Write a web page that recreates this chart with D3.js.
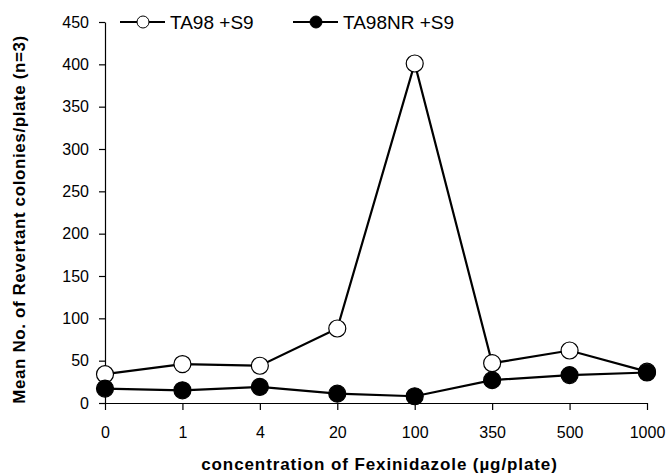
<!DOCTYPE html>
<html>
<head>
<meta charset="utf-8">
<script src="https://cdn.jsdelivr.net/npm/d3@7"></script>
<style>
  body { margin: 0; background: #fff; }
  svg { font-family: "Liberation Sans", Arial, sans-serif; }
</style>
</head>
<body>
<div class="chart"></div>
<script>
// data
const doses = ["0", "1", "4", "20", "100", "350", "500", "1000"];
const ta98 = [34, 46, 44, 88, 401, 47, 62, 37];
const ta98nr = [17, 15, 19, 11, 8, 27, 33, 36];
const yTicks = [0, 50, 100, 150, 200, 250, 300, 350, 400, 450];

const margin = ({top: 22, right: 22, bottom: 72, left: 105});
const width = 670 - margin.left - margin.right,
    height = 475 - margin.top - margin.bottom;

const xScale = d3.scalePoint()
    .domain(doses)
    .range([0, width - 1])
    .padding(0);

const yScale = d3.scaleLinear()
    .domain([0, 450])
    .range([height, 0]);

const svg = d3.select(".chart").append("svg")
    .attr("width", 670)
    .attr("height", 475)
    .append("g")
    .attr("transform", "translate(" + margin.left + "," + margin.top + ")");

// axes
const yAxis = d3.axisLeft(yScale).tickValues(yTicks).tickSize(6).tickSizeOuter(0).tickPadding(10);
const xAxis = d3.axisBottom(xScale).tickSize(7).tickSizeOuter(0).tickPadding(17);

svg.append("g")
    .attr("class", "y-axis")
    .call(yAxis)
    .call(g => g.selectAll("text").attr("font-size", 16).attr("fill", "#000").attr("font-family", "Liberation Sans, Arial"))
    .call(g => g.selectAll("line, path").attr("stroke", "#000").attr("stroke-width", 1.2));

svg.append("g")
    .attr("class", "x-axis")
    .attr("transform", "translate(0," + height + ")")
    .call(xAxis)
    .call(g => g.selectAll("text").attr("font-size", 16).attr("fill", "#000").attr("font-family", "Liberation Sans, Arial"))
    .call(g => g.selectAll("line, path").attr("stroke", "#000").attr("stroke-width", 1.2));

// axis titles
svg.append("text")
    .attr("x", width / 2 + 3)
    .attr("y", height + 67)
    .attr("text-anchor", "middle")
    .attr("font-size", 17)
    .attr("font-weight", "bold")
    .attr("letter-spacing", 0.9)
    .text("concentration of Fexinidazole (µg/plate)");

svg.append("text")
    .attr("transform", "translate(" + (-80) + "," + (height / 2 + 7) + ") rotate(-90)")
    .attr("text-anchor", "middle")
    .attr("font-size", 17)
    .attr("font-weight", "bold")
    .attr("letter-spacing", 0.6)
    .text("Mean No. of Revertant colonies/plate (n=3)");

// lines
const line = d3.line()
    .x((d, i) => xScale(doses[i]))
    .y(d => yScale(d));

const series = [
  {name: "TA98 +S9", values: ta98, fill: "#fff"},
  {name: "TA98NR +S9", values: ta98nr, fill: "#000"}
];

series.forEach(s => {
  svg.append("path")
      .datum(s.values)
      .attr("fill", "none")
      .attr("stroke", "#000")
      .attr("stroke-width", 2.2)
      .attr("d", line);
});

// markers: draw open series first, filled on top
series.forEach(s => {
  svg.append("g")
    .selectAll("circle")
    .data(s.values)
    .join("circle")
      .attr("cx", (d, i) => xScale(doses[i]))
      .attr("cy", d => yScale(d))
      .attr("r", 8.5)
      .attr("fill", s.fill)
      .attr("stroke", "#000")
      .attr("stroke-width", 1.2);
});

// legend
const legend = svg.append("g").attr("transform", "translate(0,0)");
const legendX = [15, 188];
series.forEach((s, i) => {
  const g = legend.append("g").attr("transform", "translate(" + legendX[i] + ",0)");
  g.append("line").attr("x1", 0).attr("x2", 45).attr("y1", 0).attr("y2", 0)
      .attr("stroke", "#000").attr("stroke-width", 2.2);
  g.append("circle").attr("cx", 23).attr("cy", 0).attr("r", 6)
      .attr("fill", s.fill).attr("stroke", "#000").attr("stroke-width", 1);
  g.append("text").attr("x", 50).attr("y", 7)
      .attr("font-size", 19)
      .text(s.name);
});
</script>
</body>
</html>
